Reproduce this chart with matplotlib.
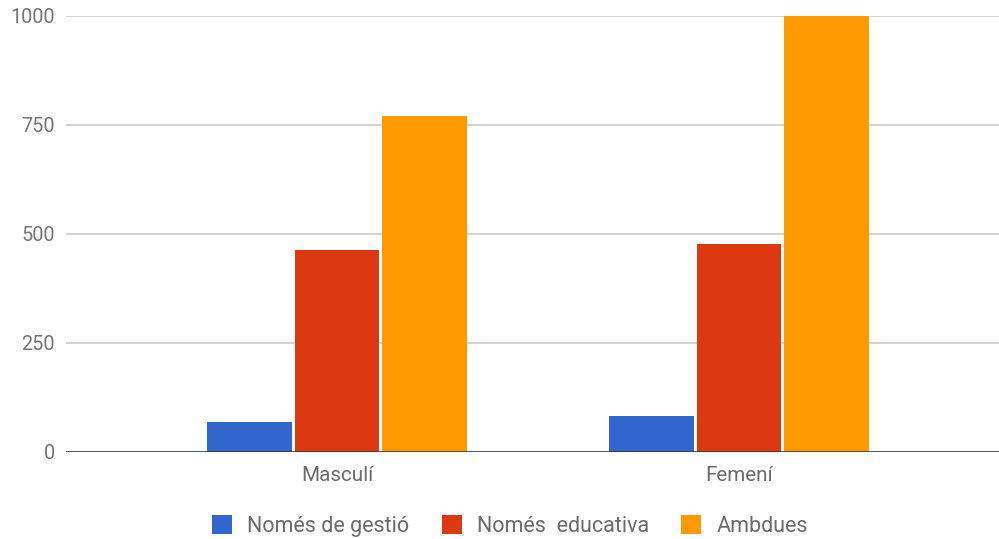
import numpy as np
import matplotlib.pyplot as plt

plt.rcParams['font.family'] = ['Roboto', 'DejaVu Sans']

categories = ['Masculí', 'Femení']
series_names = ['Només de gestió', 'Només  educativa', 'Ambdues']
gestio = [67, 83]
educativa = [463, 476]
ambdues = [770, 1030]
colors = ['#3366cc', '#dc3912', '#ff9900']
yticks = [0, 250, 500, 750, 1000]

fig = plt.figure(figsize=(9.99, 5.39), dpi=100)
ax = fig.add_axes([66 / 999, 87.3 / 539, 933 / 999, 436 / 539])

x = np.arange(len(categories))
step = 0.217
width = 0.211
for i, (vals, name) in enumerate(zip([gestio, educativa, ambdues], series_names)):
    ax.bar(x + (i - 1) * step, vals, width, color=colors[i], label=name, zorder=2)

ax.set_xlim(-0.674, 1.647)
ax.set_ylim(0, 1000)
ax.set_yticks(yticks)
ax.set_xticks(x)
ax.set_xticklabels(categories)
ax.grid(axis='y', color='#cccccc', linewidth=1.2, zorder=0)
ax.axhline(0, color='#333333', linewidth=1.8, zorder=3)
for s in ax.spines.values():
    s.set_visible(False)
ax.tick_params(axis='y', length=0, pad=8, labelsize=14.3, labelcolor='#757575')
ax.tick_params(axis='x', length=0, pad=10, labelsize=14.9, labelcolor='#6b6b6b')

fig.legend(loc='center', bbox_to_anchor=(0.5105, 0.024), ncol=3, frameon=False,
           fontsize=15.5, labelcolor='#6b6b6b', handlelength=0.93, handleheight=0.93,
           handletextpad=0.7, columnspacing=1.5)

fig.savefig('out.png', dpi=100, facecolor='white')
